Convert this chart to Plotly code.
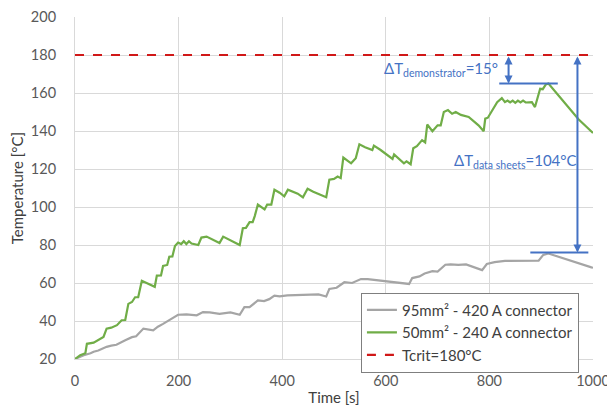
import plotly.graph_objects as go

# ---- data ----
green_t = [0, 10, 20, 23, 36, 55, 61, 70, 81, 90, 97, 103, 110, 116, 122, 129, 154, 158, 166, 170,
           178, 182, 188, 193, 199, 205, 210, 215, 220, 225, 238, 244, 254, 279, 286, 318, 324, 330,
           337, 343, 347, 353, 366, 371, 379, 385, 395, 404, 411, 420, 430, 440, 449, 460, 485, 491,
           500, 507, 513, 518, 533, 542, 549, 560, 574, 577, 590, 613, 616, 635, 640, 648, 653, 660,
           670, 676, 680, 690, 700, 706, 712, 720, 728, 735, 745, 760, 779, 789, 792, 797, 805, 815,
           824, 830, 835, 840, 845, 850, 855, 860, 865, 870, 882, 888, 898, 903, 909, 914, 972, 1000]
green_T = [20, 22, 23, 28, 28.6, 31.6, 36, 36.5, 37.8, 40.4, 40.5, 49, 50, 52.5, 52.5, 61.2, 58, 63.9,
           64, 69, 69.5, 73.8, 74, 79.5, 81.3, 80.5, 82, 80.5, 82, 80.8, 80, 83.9, 84.4, 81, 84.4, 80,
           88.8, 89, 92, 92, 95.2, 101.3, 98.7, 101.3, 101.3, 109.1, 107.5, 105.6, 109.1, 108, 107,
           105.1, 109.6, 108, 105.1, 114.4, 114.8, 116, 115.2, 126, 123, 125.7, 133, 131.5, 130, 132.3,
           130, 125.3, 127.7, 123, 124, 122.5, 130.9, 132, 135.2, 134, 143.4, 139.9, 143, 143, 150,
           151, 149.1, 150, 148.5, 147.4, 143, 139.9, 146.5, 147, 150.9, 155.2, 157.3, 155.2, 156,
           155, 156, 154.8, 156, 155, 156, 155, 155.2, 152.6, 162.2, 162, 164.5, 165, 146.2, 139]

gray_t = [0, 17, 30, 36, 45, 61, 70, 80, 97, 110, 118, 126, 132, 151, 160, 170, 183, 193, 199, 215,
          235, 247, 260, 279, 300, 318, 327, 337, 345, 353, 365, 375, 385, 395, 410, 430, 450, 470,
          485, 491, 505, 520, 535, 552, 565, 580, 600, 620, 645, 651, 665, 675, 690, 700, 715, 725,
          740, 755, 770, 786, 795, 810, 830, 860, 880, 895, 904, 914, 997, 1000]
gray_T = [20, 22, 23, 23.8, 24.5, 26.4, 27, 27.5, 29.9, 31.5, 32, 34.3, 36, 35.1, 37, 38.5, 40.7, 42.1,
          43.3, 43.5, 43, 44.7, 44.5, 43.8, 44.5, 43.3, 47.3, 47.3, 49, 50.8, 50.5, 51.5, 53.4, 53,
          53.5, 53.6, 54, 54, 52.9, 56.9, 57.5, 60.4, 60, 62.1, 62, 61.6, 60.8, 60.4, 59.5, 62.6, 63.5,
          65, 66.2, 66, 69.6, 69.8, 69.5, 69.8, 68.5, 66.8, 70, 71, 71.6, 71.6, 71.7, 71.7, 74.8,
          75.5, 68.2, 68]

tcrit = 180
x_ticks = [0, 200, 400, 600, 800, 1000]
y_ticks = [20, 40, 60, 80, 100, 120, 140, 160, 180, 200]

names = ["95mm² - 420 A connector", "50mm² - 240 A connector", "Tcrit=180°C"]

FONT = "Lato"
BLUE = "#4472c4"

fig = go.Figure()
fig.add_trace(go.Scatter(x=gray_t, y=gray_T, mode="lines", name=names[0],
                         line=dict(color="#a5a5a5", width=2.2)))
fig.add_trace(go.Scatter(x=green_t, y=green_T, mode="lines", name=names[1],
                         line=dict(color="#70ad47", width=2.2)))
fig.add_trace(go.Scatter(x=[0, 1000], y=[tcrit, tcrit], mode="lines", name=names[2],
                         line=dict(color="#d01818", width=2.2, dash="dash")))

# horizontal reference bars
fig.add_shape(type="line", x0=819, x1=932, y0=165, y1=165, line=dict(color=BLUE, width=2))
fig.add_shape(type="line", x0=879, x1=991, y0=76, y1=76, line=dict(color=BLUE, width=2))

# double arrows
for xa, ylo in [(837, 165), (970, 76)]:
    fig.add_annotation(x=xa, y=ylo, ax=xa, ay=tcrit, xref="x", yref="y", axref="x", ayref="y",
                       text="", showarrow=True, arrowside="end+start", arrowhead=2,
                       arrowsize=0.8, arrowwidth=2, arrowcolor=BLUE)

fig.add_annotation(x=592, y=172.5, xref="x", yref="y", xanchor="left", yanchor="middle",
                   text="ΔT<sub>demonstrator</sub>=15°", showarrow=False,
                   font=dict(family=FONT, size=15, color=BLUE))
fig.add_annotation(x=727, y=124, xref="x", yref="y", xanchor="left", yanchor="middle",
                   text="ΔT<sub>data sheets</sub>=104°C", showarrow=False,
                   font=dict(family=FONT, size=15, color=BLUE))

# the page body adds an 8px offset; figure sized to fit inside the window
fig.update_layout(
    width=607, height=398,
    margin=dict(l=67, r=22, t=9, b=47, autoexpand=False),
    paper_bgcolor="white", plot_bgcolor="white",
    font=dict(family=FONT, size=14, color="#595959"),
    showlegend=True,
    legend=dict(x=0.552, y=0.194, xanchor="left", yanchor="top",
                bgcolor="white", bordercolor="#7f7f7f", borderwidth=1,
                font=dict(family=FONT, size=15, color="#404040"),
                tracegroupgap=0, itemwidth=30),
    xaxis=dict(range=[0, 1000], tickvals=x_ticks, showgrid=True, gridcolor="#d9d9d9", gridwidth=1,
               zeroline=False, showline=True, linecolor="#d9d9d9", automargin=False,
               ticks="", ticklabelstandoff=9, ticklabeloverflow="allow",
               tickfont=dict(family=FONT, size=14.5, color="#595959"),
               title=dict(text="Time [s]", font=dict(family=FONT, size=15, color="#404040"), standoff=6)),
    yaxis=dict(range=[20, 200], tickvals=y_ticks, showgrid=True, gridcolor="#d9d9d9", gridwidth=1,
               zeroline=False, showline=True, linecolor="#d9d9d9", automargin=False,
               ticks="", ticklabelstandoff=15, ticklabeloverflow="allow",
               tickfont=dict(family=FONT, size=14.5, color="#595959"),
               title=dict(text="Temperature [°C]", font=dict(family=FONT, size=15, color="#404040"), standoff=8)),
)

fig.write_html("out.html")
